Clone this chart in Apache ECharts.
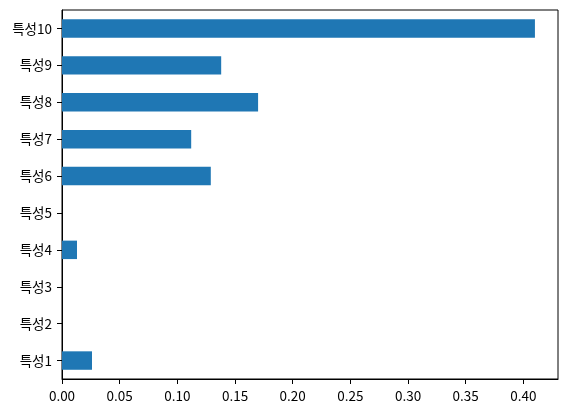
<!DOCTYPE html>
<html>
<head>
<meta charset="utf-8">
<script src="https://cdn.jsdelivr.net/npm/echarts@6/dist/echarts.min.js"></script>
<style>
  html, body { margin: 0; padding: 0; background: #fff; }
  #chart { width: 568px; height: 413px; }
</style>
</head>
<body>
<div id="chart"></div>
<script>
// 특성 중요도 (아래에서 위로)
var categories = ['특성1', '특성2', '특성3', '특성4', '특성5', '특성6', '특성7', '특성8', '특성9', '특성10'];
var importances = [0.026, 0, 0, 0.013, 0, 0.129, 0.112, 0.170, 0.138, 0.410];
var xTicks = [0, 0.05, 0.10, 0.15, 0.20, 0.25, 0.30, 0.35, 0.40];

var font = '"Noto Sans CJK KR", "Noto Sans", sans-serif';
var chart = echarts.init(document.getElementById('chart'));

var option = {
    animation: false,
    grid: {
        left: 62,
        right: 10,
        top: 10,
        bottom: 34,
        show: true,
        borderColor: '#000',
        borderWidth: 1
    },
    xAxis: {
        type: 'value',
        min: 0,
        max: 0.43,
        axisLine: { show: true, onZero: false, lineStyle: { color: '#000', width: 1 } },
        splitLine: { show: false },
        axisTick: {
            show: true,
            length: 5,
            customValues: xTicks,
            lineStyle: { color: '#000' }
        },
        axisLabel: {
            margin: 10,
            color: '#000',
            fontFamily: font,
            fontSize: 13.5,
            customValues: xTicks,
            formatter: function (v) { return v.toFixed(2); }
        }
    },
    yAxis: {
        type: 'category',
        data: categories,
        axisLine: { show: true, lineStyle: { color: '#000', width: 1 } },
        axisTick: { show: true, length: 5, alignWithLabel: true, lineStyle: { color: '#000' } },
        axisLabel: {
            margin: 10,
            color: '#000',
            fontFamily: font,
            fontSize: 13.5
        }
    },
    series: [{
        type: 'bar',
        data: importances,
        barWidth: '50%',
        itemStyle: { color: '#1f77b4' }
    }]
};

chart.setOption(option);
</script>
</body>
</html>
